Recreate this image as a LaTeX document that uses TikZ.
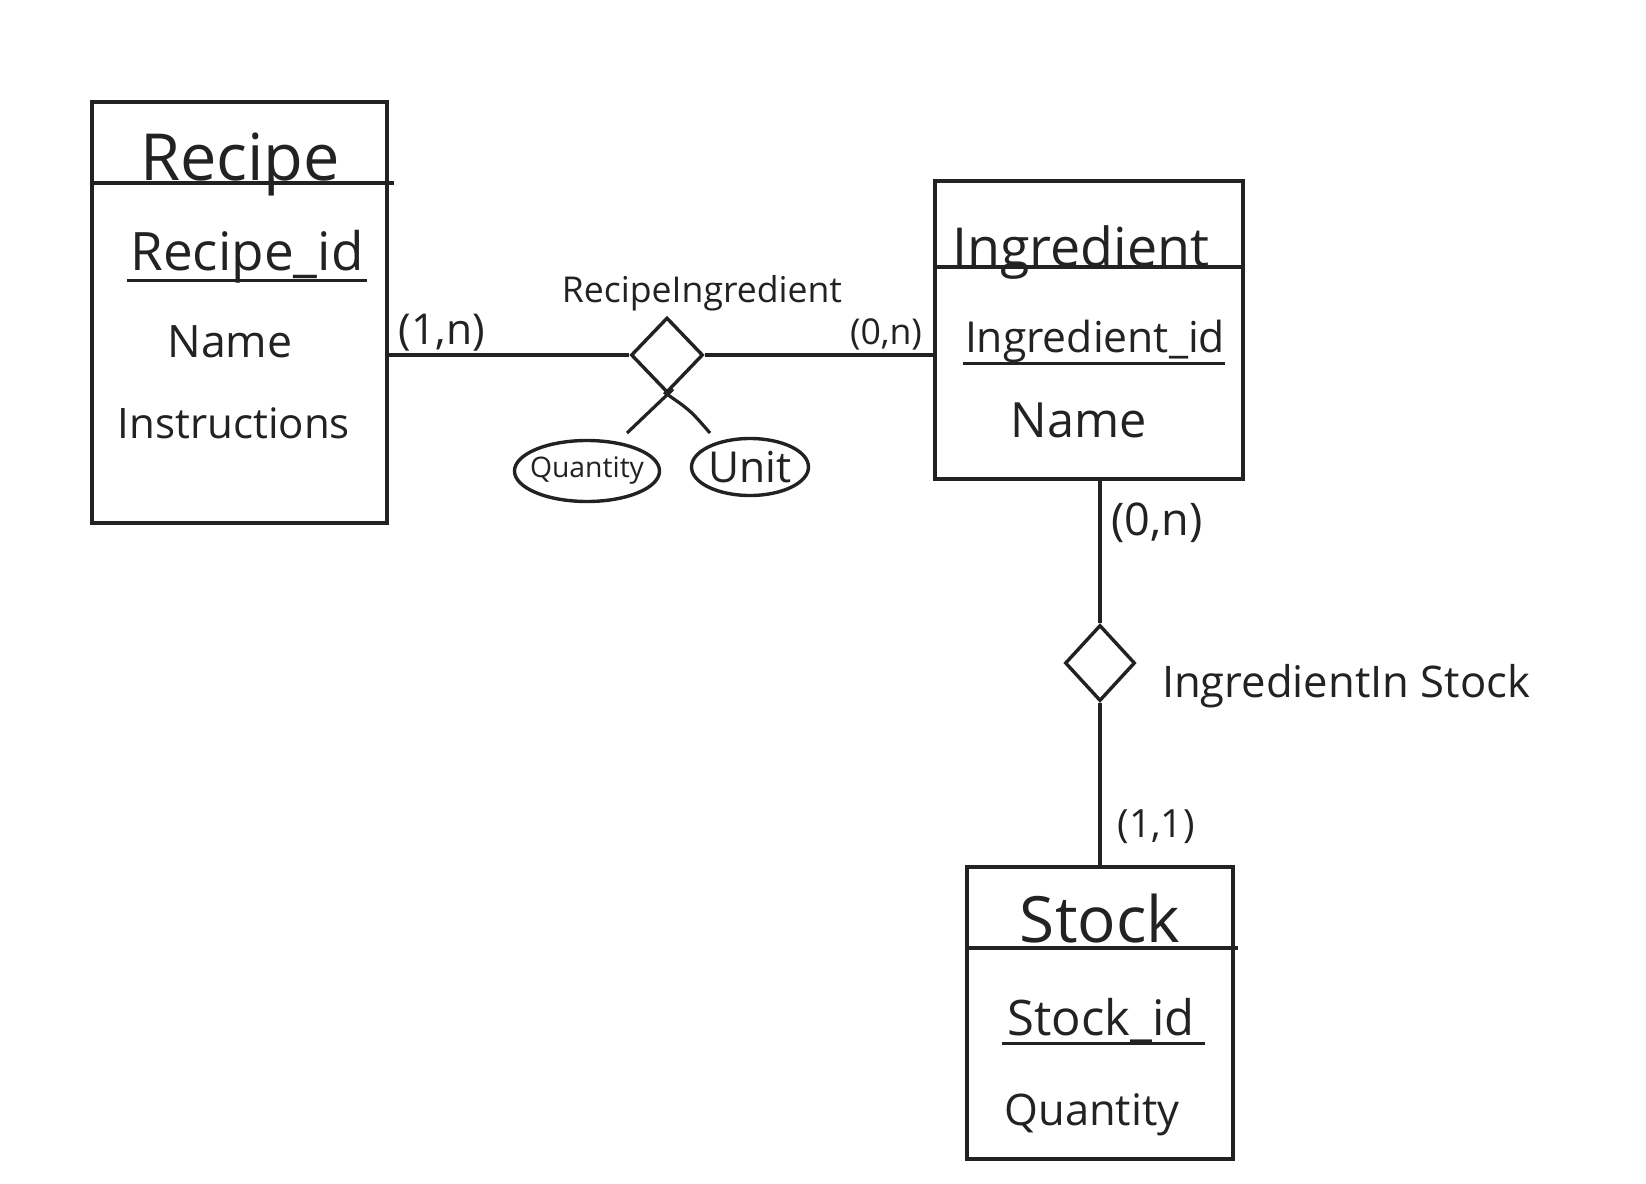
\documentclass[tikz,border=0pt]{standalone}
\usepackage{fontspec}
\setmainfont{Open Sans}
\usepackage{graphicx}
\usetikzlibrary{shapes.geometric,calc}
\definecolor{ink}{HTML}{222222}
\newcommand{\fw}[2]{\resizebox{#1}{!}{#2}}
\begin{document}
\begin{tikzpicture}[x=0.5pt,y=-0.5pt,line width=1.9pt,color=ink,
  entity/.style={draw,rectangle,inner sep=0pt},
  rel/.style={draw,diamond,inner sep=0pt,line width=1.7pt},
  attr/.style={draw,ellipse,inner sep=0pt,line width=1.7pt},
  lbl/.style={inner sep=0pt,text=ink},
  conn/.style={line width=1.6pt}]
\fill[white] (0,0) rectangle (1646,1184);
\useasboundingbox (0,0) rectangle (1646,1184);

% entities
\node[entity,minimum width=147.5pt,minimum height=210.5pt] (recipe) at (239.5,312.5) {};
\node[entity,minimum width=154pt,minimum height=149pt] (ingr) at (1089,330) {};
\node[entity,minimum width=133pt,minimum height=146pt] (stock) at (1100,1013) {};

% dividers
\draw ($(recipe.north west)+(0,83)$) -- ($(recipe.north east)+(5,83)$);
\draw ($(ingr.north west)+(0,88)$) -- ($(ingr.north east)+(0,88)$);
\draw ($(stock.north west)+(0,83)$) -- ($(stock.north east)+(3,83)$);

% relationships
\node[rel,minimum width=36pt,minimum height=37.5pt] (d1) at (667,355) {};
\node[rel,minimum width=35pt,minimum height=38pt] (d2) at (1100,663) {};

% attributes of relationship
\node[attr,minimum width=72.5pt,minimum height=30.5pt] (qty) at (587,471) {};
\node[attr,minimum width=58.5pt,minimum height=28.5pt] (unit) at (750,467) {};
\coordinate (qa) at (627,433);
\coordinate (ua) at (710,433);

% connectors
\draw[conn] (d1.west -| recipe.east) -- (d1.west);
\draw[conn] (d1.east) -- (d1.east -| ingr.west);
\draw[conn] (ingr.south -| d2.north) -- (d2.north);
\draw[conn] (d2.south) -- (stock.north -| d2.south);
\draw[conn] (qa) -- ($(d1.south)+(6,-5)$);
\draw[conn] (ua) .. controls (690,410) .. ($(d1.south)+(-3,-2)$);

% texts: Recipe
\node[lbl,anchor=base] (trecipe) at (240,180) {\fw{100pt}{Recipe}};
\node[lbl,anchor=base] (trid) at (247,270) {\fw{116.5pt}{Recipe\_id}};
\draw[line width=1.5pt] (127,280) -- (367,280);
\node[lbl,anchor=base] (trname) at (230,357) {\fw{62.5pt}{Name}};
\node[lbl,anchor=base] (trinst) at (234,438) {\fw{116pt}{Instructions}};

% texts: Ingredient
\node[lbl,anchor=base] (tingr) at (1081,266) {\fw{128.5pt}{Ingredient}};
\node[lbl,anchor=base] (tiid) at (1095,352) {\fw{130pt}{Ingredient\_id}};
\draw[line width=1.5pt] (963,363) -- (1225,363);
\node[lbl,anchor=base] (tiname) at (1079,437) {\fw{68pt}{Name}};

% texts: Stock
\node[lbl,anchor=base] (tstock) at (1100,942) {\fw{80pt}{Stock}};
\node[lbl,anchor=base] (tsid) at (1101,1035) {\fw{93.5pt}{Stock\_id}};
\draw[line width=1.5pt] (1002,1043) -- (1205,1043);
\node[lbl,anchor=base] (tsqty) at (1092,1125) {\fw{87.5pt}{Quantity}};

% relationship labels
\node[lbl,anchor=base] (trel1) at (702,302) {\fw{140pt}{RecipeIngredient}};
\node[lbl,anchor=base] (trel2) at (1346,697) {\fw{184pt}{IngredientIn Stock}};

% cardinalities
\node[lbl] (c1) at (442,333) {\fw{43pt}{(1,n)}};
\node[lbl] (c2) at (886,334) {\fw{36pt}{(0,n)}};
\node[lbl] (c3) at (1157,523) {\fw{45.5pt}{(0,n)}};
\node[lbl] (c4) at (1156,827) {\fw{38.5pt}{(1,1)}};

% attribute texts
\node[lbl] at (qty.center) {\fw{57pt}{Quantity}};
\node[lbl] at (unit.center) {\fw{41.5pt}{Unit}};
\end{tikzpicture}
\end{document}
